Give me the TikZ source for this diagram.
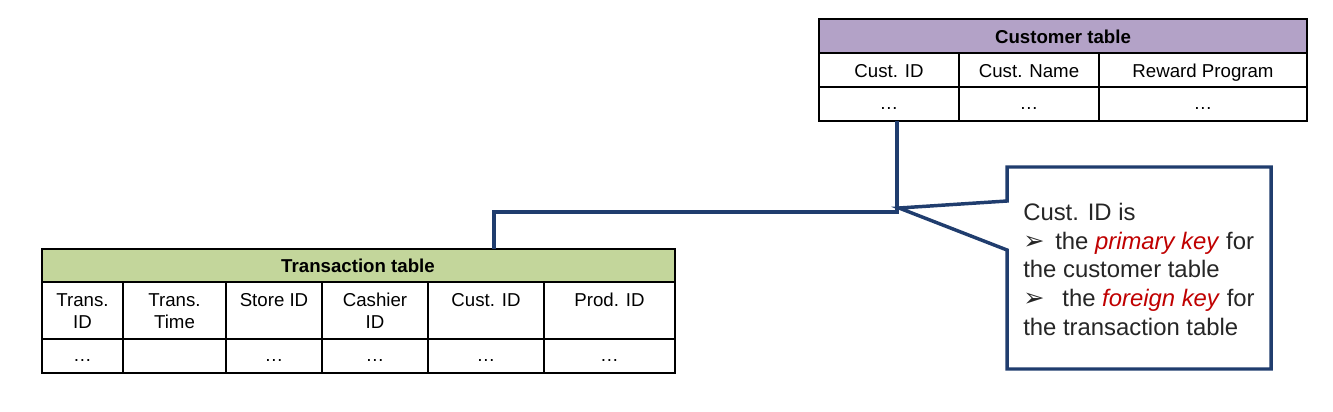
\documentclass[tikz,border=0pt]{standalone}
\usepackage{fontspec}
\setmainfont{Liberation Sans}
\newfontfamily\arrowfont{DejaVu Sans}
\definecolor{navy}{HTML}{203D6E}
\definecolor{custpurple}{HTML}{B3A2C7}
\definecolor{transgreen}{HTML}{C3D69B}
\definecolor{keyred}{HTML}{C00000}
\definecolor{notegray}{HTML}{262626}
\begin{document}
\begin{tikzpicture}[x=0.75pt,y=-0.75pt,
  grid/.style={line width=1.3pt},
  cell/.style={font=\fontsize{14}{16.5}\selectfont, inner sep=0pt, anchor=base},
  twoline/.style={font=\fontsize{14}{16.5}\selectfont, inner sep=0pt, anchor=north, align=center},
  head/.style={cell, font=\fontsize{14}{16.5}\selectfont\bfseries},
  link/.style={navy, line width=2.6pt, line join=miter}]
\useasboundingbox (0,0) rectangle (1333,411);
% Customer table
\fill[custpurple] (819,19) rectangle (1307,53);
\draw[grid] (819,19) rectangle (1307,121);
\draw[grid] (819,53) -- (1307,53);
\draw[grid] (819,87) -- (1307,87);
\foreach \x in {959,1099} \draw[grid] (\x,53) -- (\x,121);
\node[head] (custhead) at (1063,43.5) {Customer table};
\node[cell] (custid) at (889,77) {Cust. ID};
\node[cell] (custname) at (1029,77) {Cust. Name};
\node[cell] (reward) at (1203,77) {Reward Program};
\foreach \x/\n in {889/a,1029/b,1203/c} \node[cell] (custdots\n) at (\x,109) {\ldots};
% Transaction table
\fill[transgreen] (42,249) rectangle (675,282);
\draw[grid] (42,249) rectangle (675,373);
\draw[grid] (42,282) -- (675,282);
\draw[grid] (42,339) -- (675,339);
\foreach \x in {123,226,322,428,544} \draw[grid] (\x,282) -- (\x,373);
\node[head] (transhead) at (358,272.5) {Transaction table};
\node[twoline] (transid) at (82.5,293) {Trans.\\ID};
\node[twoline] (transtime) at (174.5,293) {Trans.\\Time};
\node[twoline] (storeid) at (274,293) {Store ID};
\node[twoline] (cashierid) at (375,293) {Cashier\\ID};
\node[twoline] (transcust) at (486,293) {Cust. ID};
\node[twoline] (prodid) at (609.5,293) {Prod. ID};
\foreach \x/\n in {82.5/a,274/c,375/d,486/e,609.5/f} \node[cell] (transdots\n) at (\x,361) {\ldots};
% Key link
\coordinate (custfk) at (897,121);
\coordinate (elbow) at (897,212);
\coordinate (transfk) at (494,249);
\draw[link] (custfk) -- (elbow) -| (transfk);
% Note callout
\coordinate (notetip) at (899,208);
\filldraw[link, fill=white] (1007,167) -- (1271,167) -- (1271,369) -- (1007,369) -- (1007,250)
  -- (notetip) -- (1007,201) -- cycle;
\node[anchor=north west, inner sep=0pt, align=left, text=notegray,
  font=\fontsize{17.9}{21.5}\selectfont] (note) at (1023,203)
  {Cust. ID is\\
   {\arrowfont\fontsize{19}{19}\selectfont ➢}\hspace{0.45em}the \textcolor{keyred}{\textit{primary key}} for\\
   the customer table\\
   {\arrowfont\fontsize{19}{19}\selectfont ➢}\hspace{0.75em}the \textcolor{keyred}{\textit{foreign key}} for\\
   the transaction table};
\end{tikzpicture}
\end{document}
